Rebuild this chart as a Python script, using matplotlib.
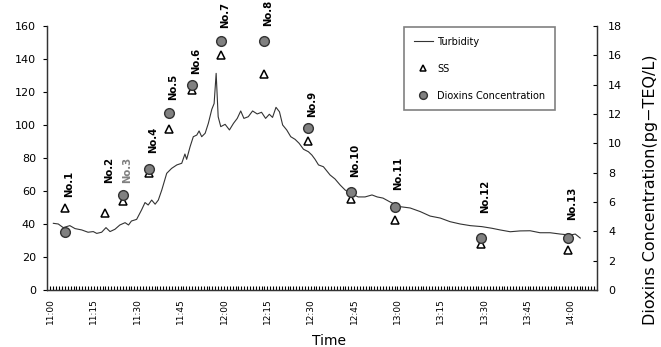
import matplotlib

matplotlib.use("Agg")
import matplotlib.pyplot as plt
import numpy as np

plt.rcParams["font.family"] = ["DejaVu Sans"]

# minutes after 11:00
turb_min = [1, 2.7, 4.4, 6.7, 8.5, 10.8, 13, 14.8, 16, 17.7, 19.2, 20.6, 22.3, 24, 25.8, 27, 28,
            29.8, 31.5, 32.7, 33.8, 35, 36.2, 37.3, 38.5, 40.2, 41.9, 43.7, 45.4, 46.5, 47.1, 48.3,
            49.4, 50.6, 51.4, 52.3, 53.5, 54.6, 55.8, 56.6, 57.3, 58, 58.9, 60.4, 61.9, 63.3, 64.6,
            65.8, 66.9, 68.4, 69.9, 71.5, 73, 74.4, 75.7, 76.8, 78, 79.2, 80.3, 81.7, 83.1, 84.6,
            86, 87.5, 89.2, 90.4, 91.5, 92.7, 94.4, 96.7, 98.4, 100.2, 101.9, 103.6, 106.4, 108.8,
            111.2, 113, 115, 117.5, 120.9, 124.4, 127.9, 131.3, 134.8, 138.2, 141.7, 145.2, 149.2,
            152.7, 155.5, 159, 162.4, 165.9, 169.3, 172.8, 176.3, 179.7, 181.5, 183.2]
turb_val = [40.4, 40, 37.8, 39, 37.2, 36.4, 35, 35.4, 34.3, 35, 37.8, 35.4, 36.8, 39.4, 40.8, 39.4,
            41.8, 42.8, 48.5, 53, 51.5, 54.5, 52, 54.5, 60.6, 70.7, 73.7, 75.8, 76.8, 82.4, 79.2,
            86.9, 92.9, 93.9, 96.4, 92.9, 95, 101, 109.5, 113, 131.3, 105, 99, 100.4, 97, 101, 104,
            108.5, 104, 105, 108.5, 106.7, 107.7, 104, 106.5, 104.6, 110.7, 108, 100, 97, 92.9,
            91.3, 88.9, 85.3, 83.8, 81.8, 79.2, 75.8, 74.7, 69.7, 67.3, 63.6, 60.6, 58.8, 56.4,
            56.4, 57.6, 56.4, 55.7, 53.3, 50.5, 49.7, 47.5, 44.8, 43.6, 41.4, 40, 39, 38.4, 37.4,
            36.4, 35.3, 35.8, 35.9, 34.7, 34.7, 33.9, 33.3, 33.9, 31.5]

sample_names = ["No.1", "No.2", "No.3", "No.4", "No.5", "No.6", "No.7", "No.8", "No.9",
                "No.10", "No.11", "No.12", "No.13"]
sample_min = [5, 19, 25, 34, 41, 49, 59, 74, 89, 104, 119, 149, 179]
ss_val = [49.5, 46.9, 54.1, 71.1, 97.4, 121.2, 142.4, 130.9, 90.3, 55, 42.4, 27.9, 24.2]
dioxin_min = [5, 25, 34, 41, 49, 59, 74, 89, 104, 119, 149, 179]
dioxin_val = [3.94, 6.48, 8.23, 12.05, 14.0, 17.0, 17.0, 11.03, 6.7, 5.68, 3.57, 3.52]
label_y = [56.4, 64.8, 64.8, 83, 115, 131, 158.8, 160, 104.8, 68.5, 60.6, 46.8, 42.4]
label_colors = ["black", "black", "#808080"] + ["black"] * 10

tick_min = [0, 15, 30, 45, 60, 75, 90, 105, 120, 135, 150, 165, 180]
tick_labels = ["11:00", "11:15", "11:30", "11:45", "12:00", "12:15", "12:30",
               "12:45", "13:00", "13:15", "13:30", "13:45", "14:00"]

fig = plt.figure(figsize=(6.61, 3.47), dpi=100)
ax = fig.add_axes([0.0711, 0.1643, 0.832, 0.7608])
ax2 = ax.twinx()

ax.plot(turb_min, turb_val, color="#333333", lw=0.8, label="Turbidity")
ax.plot(sample_min, ss_val, ls="none", marker="^", ms=6, mfc="white", mec="black", mew=1.1,
        label="SS")
ax2.plot(dioxin_min, dioxin_val, ls="none", marker="o", ms=7, mfc="#808080", mec="#333333",
         mew=1.0, label="Dioxins Concentration")

for name, xm, yl, c in zip(sample_names, sample_min, label_y, label_colors):
    ax.annotate(name, xy=(xm, yl), xytext=(4, 0), textcoords="offset pixels", rotation=90,
                ha="center", va="bottom", fontsize=7.3, fontweight="bold", color=c,
                annotation_clip=False)

ax.set_xlim(-1.2, 189)
ax.set_ylim(0, 160)
ax2.set_ylim(0, 18)
ax.set_yticks(range(0, 161, 20))
ax2.set_yticks(range(0, 19, 2))
ax.set_xticks(tick_min)
ax.set_xticklabels(tick_labels, rotation=90)
ax.set_xticks(np.arange(0, 189, 1), minor=True)

ax.tick_params(axis="x", which="both", direction="in", length=3, width=0.8, labelsize=6.5, pad=6)
ax.tick_params(axis="y", direction="out", length=3, width=0.8, labelsize=8, pad=5)
ax2.tick_params(axis="y", direction="in", length=3, width=0.8, labelsize=8, pad=8)

for a in (ax, ax2):
    a.spines["top"].set_visible(False)
    for s in ("left", "right", "bottom"):
        a.spines[s].set_color("#333333")
        a.spines[s].set_linewidth(0.9)

h1, l1 = ax.get_legend_handles_labels()
h2, l2 = ax2.get_legend_handles_labels()
leg = ax2.legend(h1 + h2, l1 + l2, loc="upper left", bbox_to_anchor=(404 / 661, 1 - 27 / 347),
                 bbox_transform=fig.transFigure, borderaxespad=0, fontsize=7,
                 labelspacing=1.75, borderpad=1.0, handlelength=2.0, handletextpad=0.4,
                 markerscale=0.8, fancybox=False, framealpha=1, edgecolor="#808080")
leg.get_frame().set_linewidth(1.2)

fig.text(651 / 661, 1 - 190 / 347, "Dioxins Concentration(pg\u2212TEQ/L)", rotation=90,
         ha="center", va="center", fontsize=11.5)
fig.text(329 / 661, 0.006, "Time", ha="center", va="baseline", fontsize=10)

fig.savefig("out.png", dpi=100)
